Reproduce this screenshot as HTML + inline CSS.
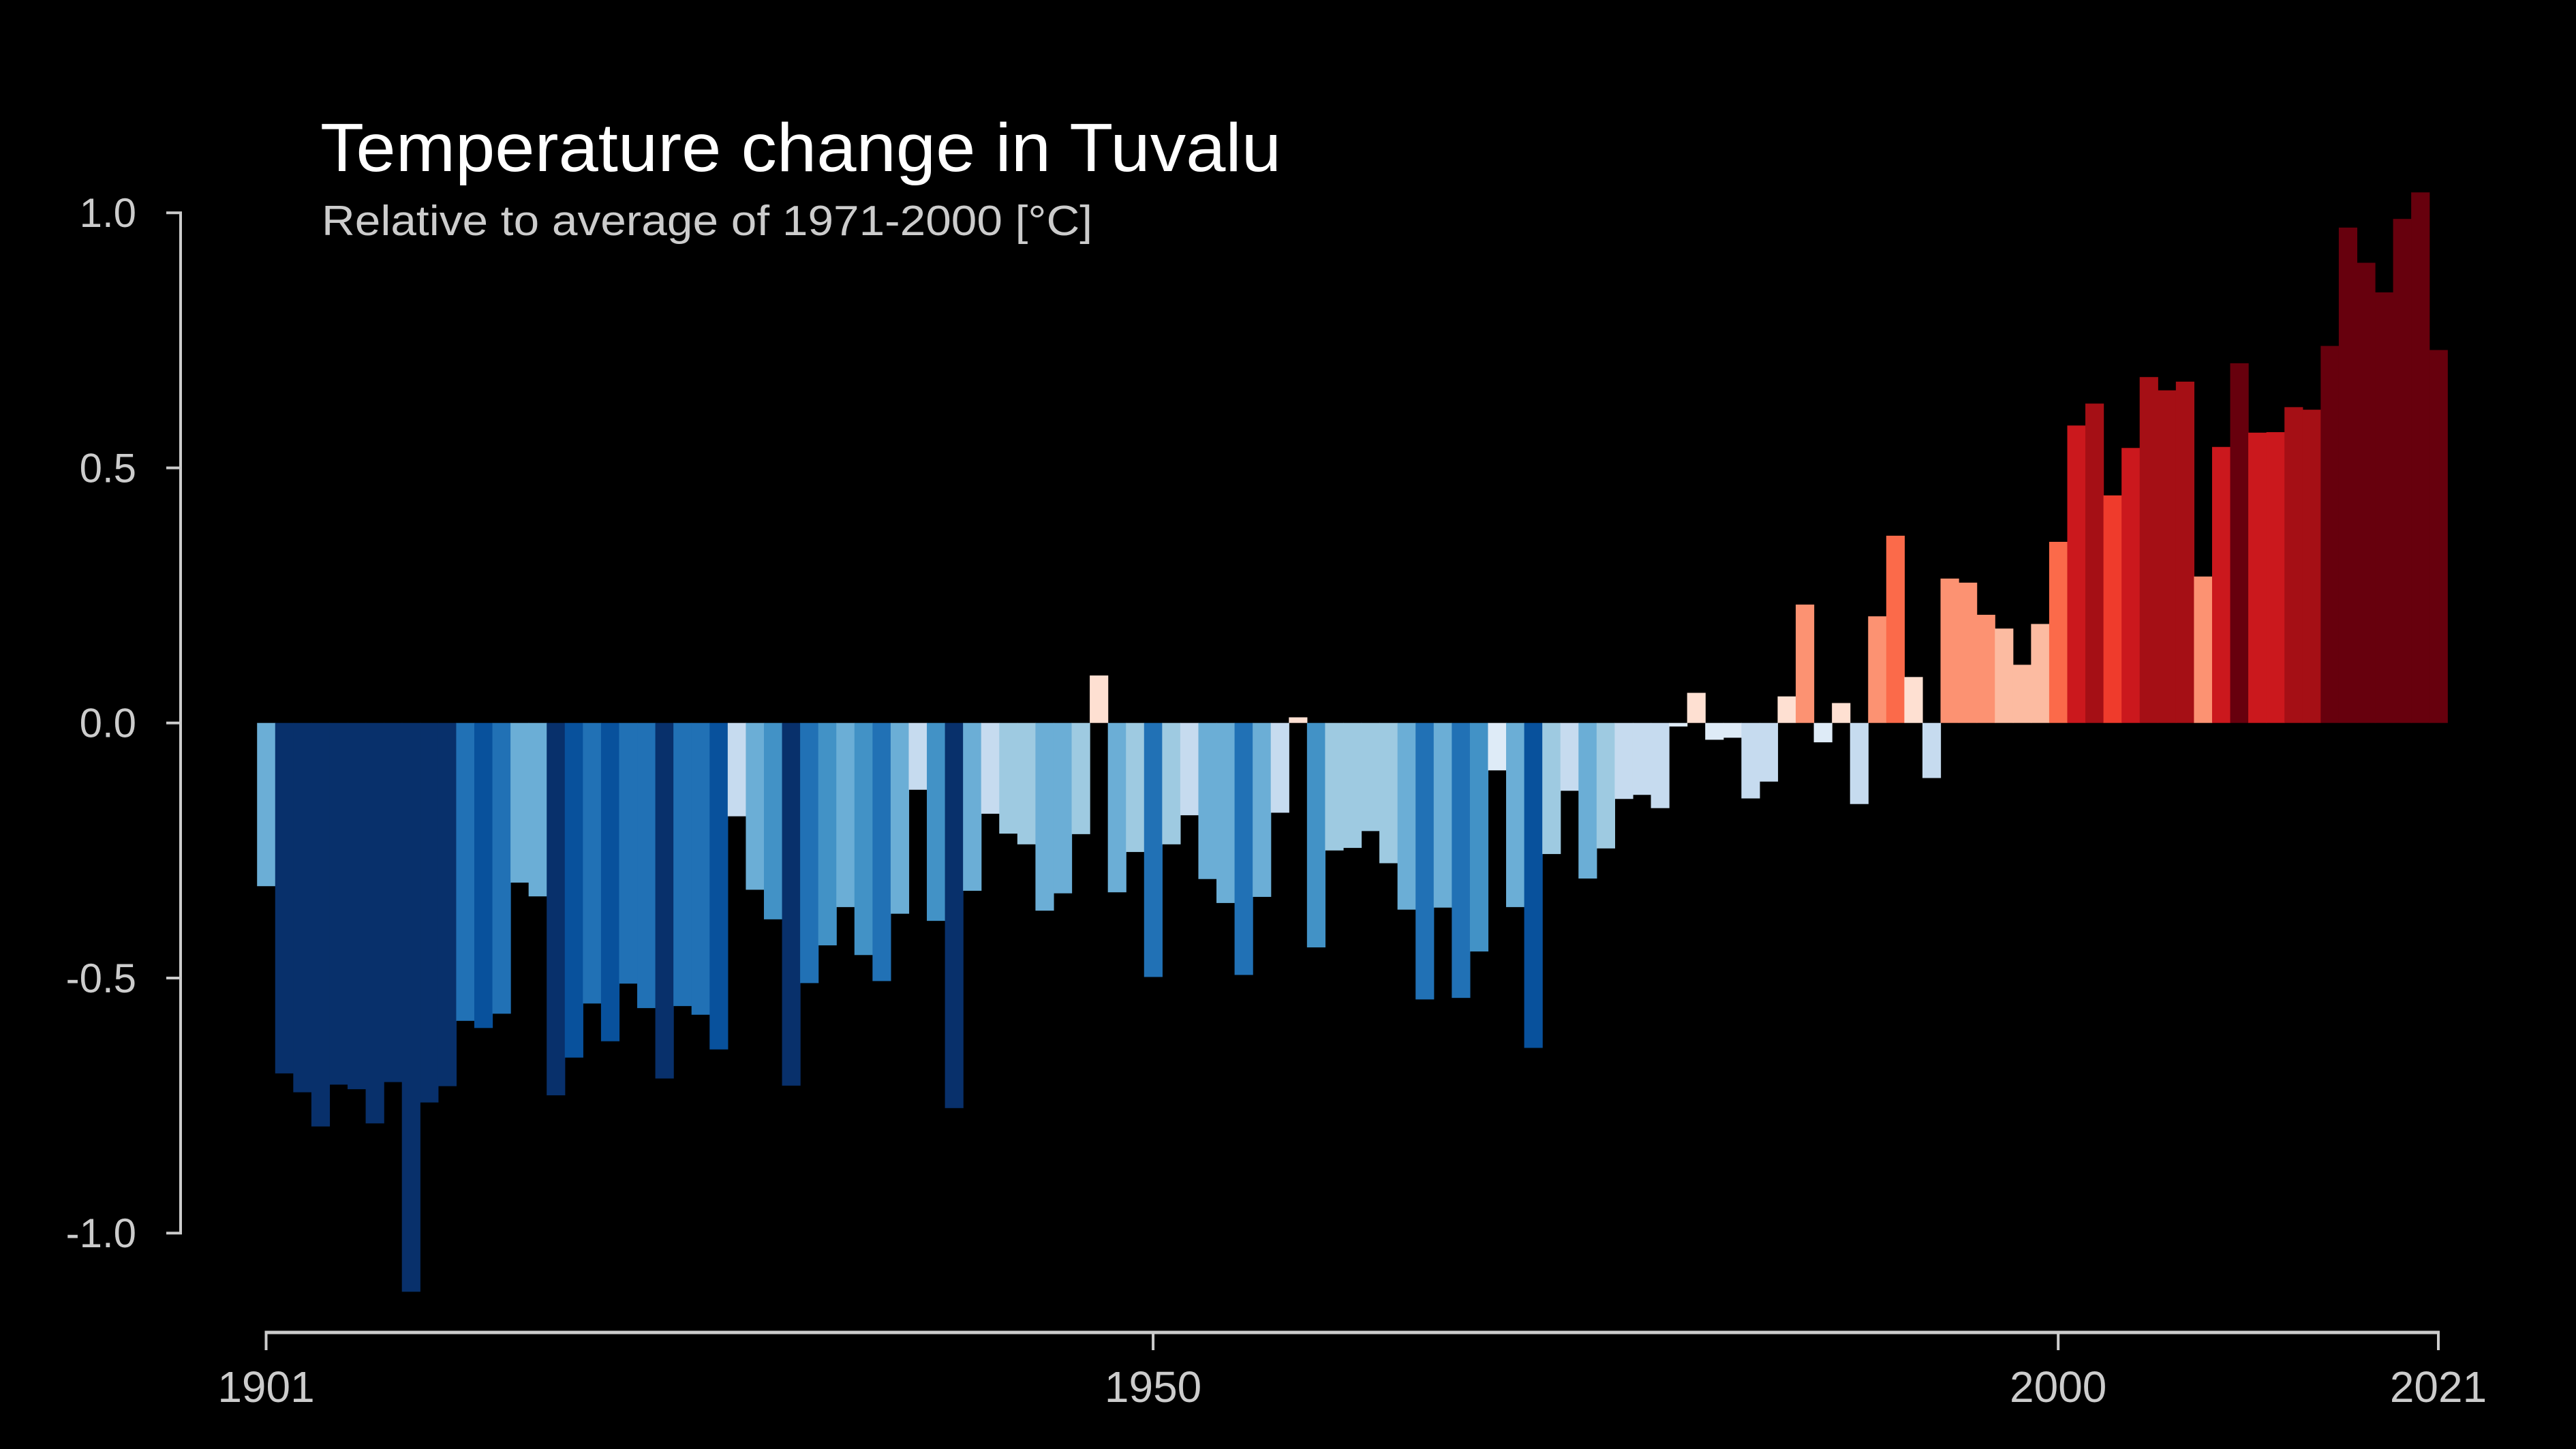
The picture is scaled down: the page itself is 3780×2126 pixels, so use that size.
<!DOCTYPE html>
<html><head><meta charset="utf-8"><style>
html,body{margin:0;padding:0;background:#000;}
svg{display:block;}
text{font-family:"Liberation Sans",Arial,sans-serif;}
</style></head><body>
<svg id="chart" width="3780" height="2126" viewBox="0 0 3780 2126" xmlns="http://www.w3.org/2000/svg">
<rect x="0" y="0" width="3780" height="2126" fill="#000"/>
<text x="470" y="251" font-size="100" fill="#ffffff" textLength="1410" lengthAdjust="spacingAndGlyphs">Temperature change in Tuvalu</text>
<text x="472" y="345" font-size="62" fill="#cccccc" textLength="1131" lengthAdjust="spacingAndGlyphs">Relative to average of 1971-2000  [°C]</text>
<g id="bars"></g>
<g id="yaxis"></g>
<g id="xaxis"></g>
</svg>
<script>
const years = [];
for (let y = 1901; y <= 2021; y++) years.push(y);
const anomalies = [
-0.32,-0.687,-0.724,-0.791,-0.709,-0.718,-0.785,-0.704,-1.115,-0.744,
-0.712,-0.584,-0.598,-0.570,-0.313,-0.340,-0.730,-0.656,-0.550,-0.624,
-0.511,-0.559,-0.697,-0.555,-0.572,-0.640,-0.183,-0.327,-0.385,-0.711,
-0.51,-0.436,-0.361,-0.455,-0.506,-0.374,-0.131,-0.388,-0.755,-0.329,
-0.178,-0.217,-0.238,-0.368,-0.334,-0.218,0.093,-0.332,-0.253,-0.498,
-0.238,-0.181,-0.306,-0.353,-0.494,-0.341,-0.176,0.011,-0.440,-0.250,
-0.245,-0.212,-0.275,-0.366,-0.542,-0.362,-0.539,-0.448,-0.093,-0.361,
-0.637,-0.257,-0.133,-0.305,-0.246,-0.149,-0.141,-0.167,-0.007,0.059,
-0.033,-0.029,-0.148,-0.115,0.052,0.232,-0.038,0.039,-0.159,0.209,
0.367,0.090,-0.108,0.283,0.275,0.212,0.185,0.114,0.194,0.355,
0.583,0.626,0.446,0.539,0.678,0.652,0.669,0.287,0.541,0.705,
0.569,0.570,0.619,0.614,0.739,0.971,0.902,0.844,0.988,1.040,
0.731];
const yTicks = [1.0, 0.5, 0.0, -0.5, -1.0];
const yTickLabels = ["1.0","0.5","0.0","-0.5","-1.0"];
const xTicks = [1901, 1950, 2000, 2021];
const xTickLabels = ["1901","1950","2000","2021"];

const NS = "http://www.w3.org/2000/svg";
const X0 = 390.5, X1 = 3578, Y_ZERO = 1060.7, Y_PER = 748.5;
const xScale = yr => X0 + (yr - 1901) * (X1 - X0) / 120;
const yScale = v => Y_ZERO - v * Y_PER;
const bw = (X1 - X0) / 120;
function color(v) {
  if (v >= 0) {
    const reds = ["#fee0d2","#fcbba1","#fc9272","#fb6a4a","#ef3b2c","#cb181d","#a50f15","#67000d"];
    return reds[Math.min(7, Math.floor(v / 0.1))];
  }
  const th = [-0.1,-0.2,-0.3,-0.38,-0.48,-0.59,-0.67];
  const blues = ["#deebf7","#c6dbef","#9ecae1","#6baed6","#4292c6","#2171b5","#08519c","#08306b"];
  let i = 0; while (i < th.length && v <= th[i]) i++;
  return blues[i];
}
const gb = document.getElementById("bars");
years.forEach((yr, i) => {
  const v = anomalies[i];
  const r = document.createElementNS(NS, "rect");
  const y1 = yScale(Math.max(v, 0)), y2 = yScale(Math.min(v, 0));
  r.setAttribute("x", (xScale(yr) - bw / 2).toFixed(2));
  r.setAttribute("y", y1.toFixed(2));
  r.setAttribute("width", (bw + 0.6).toFixed(2));
  r.setAttribute("height", Math.max(0.5, y2 - y1).toFixed(2));
  r.setAttribute("fill", color(v));
  
  
  gb.appendChild(r);
});
const gy = document.getElementById("yaxis");
const yl = document.createElementNS(NS, "line");
yl.setAttribute("x1", 265); yl.setAttribute("x2", 265);
yl.setAttribute("y1", yScale(1)); yl.setAttribute("y2", yScale(-1));
yl.setAttribute("stroke", "#cccccc"); yl.setAttribute("stroke-width", 4);


gy.appendChild(yl);
yTicks.forEach((t, i) => {
  const tk = document.createElementNS(NS, "line");
  tk.setAttribute("x1", 244); tk.setAttribute("x2", 267);
  tk.setAttribute("y1", yScale(t)); tk.setAttribute("y2", yScale(t));
  tk.setAttribute("stroke", "#cccccc"); tk.setAttribute("stroke-width", 4);
  
  
  gy.appendChild(tk);
  const tx = document.createElementNS(NS, "text");
  tx.setAttribute("x", 200); tx.setAttribute("y", yScale(t) + 21);
  tx.setAttribute("text-anchor", "end"); tx.setAttribute("font-size", 60);
  tx.setAttribute("fill", "#cccccc");
  tx.textContent = yTickLabels[i];
  
  
  gy.appendChild(tx);
});
const gx = document.getElementById("xaxis");
const xl = document.createElementNS(NS, "line");
xl.setAttribute("x1", xScale(1901) - 2); xl.setAttribute("x2", xScale(2021) + 2);
xl.setAttribute("y1", 1955); xl.setAttribute("y2", 1955);
xl.setAttribute("stroke", "#cccccc"); xl.setAttribute("stroke-width", 5);


gx.appendChild(xl);
xTicks.forEach((t, i) => {
  const tk = document.createElementNS(NS, "line");
  tk.setAttribute("x1", xScale(t)); tk.setAttribute("x2", xScale(t));
  tk.setAttribute("y1", 1953); tk.setAttribute("y2", 1981);
  tk.setAttribute("stroke", "#cccccc"); tk.setAttribute("stroke-width", 4);
  
  
  gx.appendChild(tk);
  const tx = document.createElementNS(NS, "text");
  tx.setAttribute("x", xScale(t)); tx.setAttribute("y", 2057);
  tx.setAttribute("text-anchor", "middle"); tx.setAttribute("font-size", 64);
  tx.setAttribute("fill", "#cccccc");
  tx.textContent = xTickLabels[i];
  
  
  gx.appendChild(tx);
});
</script>
</body></html>
